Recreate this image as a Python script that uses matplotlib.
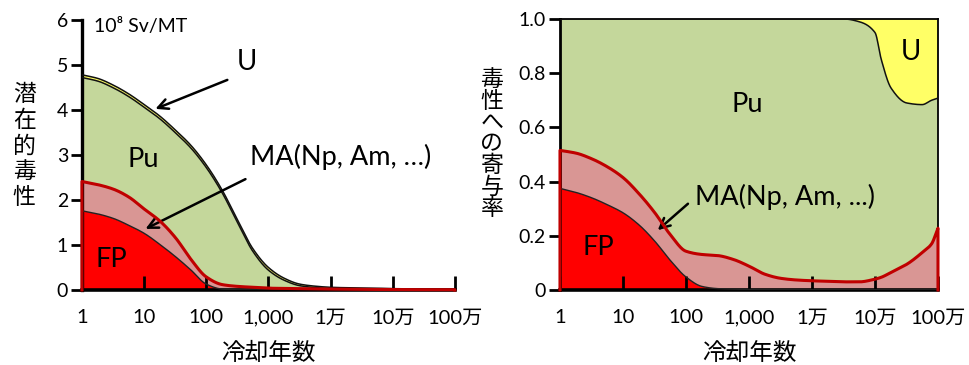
import matplotlib
matplotlib.use("Agg")
import matplotlib.pyplot as plt
import numpy as np
from matplotlib.ticker import FixedLocator, NullLocator

plt.rcParams["font.family"] = ["Lato", "Noto Sans CJK JP", "DejaVu Sans"]

# cooling time grid (years)
years = [1, 1.8, 3.2, 5.6, 10, 18, 32, 56, 100, 180, 320, 560, 1e3, 1.8e3, 3.2e3,
         5.6e3, 1e4, 1.8e4, 3.2e4, 5.6e4, 1e5, 1.26e5, 1.8e5, 3.2e5, 5.6e5, 7.9e5, 1e6]

# potential toxicity, 10^8 Sv/MT, per component (stacked FP, MA, Pu, U)
tox_fp = [1.76, 1.69, 1.59, 1.44, 1.26, 1.01, 0.74, 0.45, 0.13, 0.02, 0.005, 0.003, 0.002,
          0.001, 0.001, 0, 0, 0, 0, 0, 0, 0, 0, 0, 0, 0, 0]
tox_ma = [0.65, 0.65, 0.65, 0.63, 0.54, 0.52, 0.42, 0.24, 0.16, 0.10, 0.075, 0.057, 0.038,
          0.034, 0.029, 0.025, 0.02, 0.018, 0.015, 0.012, 0.01, 0.009, 0.008, 0.007, 0.006,
          0.006, 0.006]
tox_pu = [2.31, 2.30, 2.25, 2.23, 2.26, 2.27, 2.33, 2.47, 2.43, 2.04, 1.41, 0.80, 0.40,
          0.18, 0.065, 0.03, 0.015, 0.012, 0.012, 0.012, 0.008, 0.008, 0.007, 0.005, 0.005,
          0.004, 0.004]
tox_u = [0.06, 0.06, 0.06, 0.06, 0.06, 0.06, 0.06, 0.06, 0.06, 0.06, 0.06, 0.06, 0.06,
         0.045, 0.035, 0.03, 0.025, 0.02, 0.018, 0.016, 0.012, 0.011, 0.01, 0.008, 0.007,
         0.006, 0.005]

# share of the toxicity per component
frac_fp = [0.375, 0.36, 0.34, 0.315, 0.285, 0.24, 0.18, 0.11, 0.048, 0.013, 0.005, 0.003,
           0.002, 0.001, 0.001, 0.001, 0.001, 0.001, 0.001, 0.001, 0.001, 0.001, 0.001,
           0.001, 0.001, 0.001, 0.001]
frac_ma = [0.140, 0.145, 0.144, 0.140, 0.130, 0.115, 0.105, 0.095, 0.095, 0.118, 0.122,
           0.110, 0.086, 0.057, 0.042, 0.036, 0.033, 0.031, 0.029, 0.029, 0.039, 0.046,
           0.064, 0.094, 0.137, 0.169, 0.227]
frac_pu = [0.485, 0.495, 0.516, 0.545, 0.585, 0.645, 0.715, 0.795, 0.857, 0.869, 0.873,
           0.887, 0.912, 0.942, 0.957, 0.963, 0.966, 0.968, 0.970, 0.960, 0.910, 0.803,
           0.680, 0.595, 0.546, 0.530, 0.480]
frac_u = [0, 0, 0, 0, 0, 0, 0, 0, 0, 0, 0, 0, 0, 0, 0, 0, 0, 0, 0, 0.01, 0.05, 0.15,
          0.255, 0.31, 0.316, 0.30, 0.292]

xtick_vals = [1, 10, 100, 1e3, 1e4, 1e5, 1e6]
xtick_labels = ["1", "10", "100", "1,000", "1万", "10万", "100万"]

C_FP = "#FF0000"
C_MA = "#D99694"
C_PU = "#C4D79B"
C_U = "#FFFF66"
C_LINE = "#C00000"


def pchip(x, y, xn):
    # shape-preserving cubic so the curves stay smooth between read points
    x = np.asarray(x, float)
    y = np.asarray(y, float)
    h = np.diff(x)
    d = np.diff(y) / h
    m = np.zeros_like(y)
    m[0], m[-1] = d[0], d[-1]
    for k in range(1, len(x) - 1):
        if d[k - 1] * d[k] > 0:
            w1 = 2 * h[k] + h[k - 1]
            w2 = h[k] + 2 * h[k - 1]
            m[k] = (w1 + w2) / (w1 / d[k - 1] + w2 / d[k])
    idx = np.clip(np.searchsorted(x, xn) - 1, 0, len(x) - 2)
    t = (xn - x[idx]) / h[idx]
    h00 = 2 * t**3 - 3 * t**2 + 1
    h10 = t**3 - 2 * t**2 + t
    h01 = -2 * t**3 + 3 * t**2
    h11 = t**3 - t**2
    return h00 * y[idx] + h10 * h[idx] * m[idx] + h01 * y[idx + 1] + h11 * h[idx] * m[idx + 1]


fig = plt.figure(figsize=(9.7, 3.65), dpi=100)
ax1 = fig.add_axes([0.0845, 0.2055, 0.3845, 0.740])
ax2 = fig.add_axes([0.5773, 0.2055, 0.3897, 0.7425])


def draw_stack(ax, fp, ma, pu, u, top_line=True):
    lx = np.log10(years)
    lxn = np.linspace(lx[0], lx[-1], 600)
    xn = 10 ** lxn
    # smooth the stacked boundaries, then take the layers back out of them
    cum = np.cumsum(np.vstack([fp, ma, pu, u]), axis=0)
    tops = np.vstack([pchip(lx, c, lxn) for c in cum])
    tops = np.maximum.accumulate(np.clip(tops, 0, None), axis=0)
    layers = np.diff(np.vstack([np.zeros_like(xn), tops]), axis=0)
    ax.stackplot(xn, layers, colors=[C_FP, C_MA, C_PU, C_U], linewidth=0)
    ax.plot(xn, tops[0], color="#222222", lw=1.0, zorder=3)
    ax.plot(xn, tops[2], color="#111111", lw=1.1, zorder=3)
    if top_line:
        ax.plot(xn, tops[3], color="#111111", lw=1.1, zorder=3)
    # MA outline with its left and right edges
    ax.plot(np.r_[xn[0], xn, xn[-1]], np.r_[0, tops[1], 0], color=C_LINE, lw=2.2, zorder=4,
            solid_joinstyle="round", clip_on=False)


def style_xaxis(ax):
    ax.set_xscale("log")
    ax.set_xlim(1, 1e6)
    ax.xaxis.set_major_locator(FixedLocator(xtick_vals))
    ax.xaxis.set_minor_locator(NullLocator())
    ax.set_xticklabels(xtick_labels)
    ax.tick_params(axis="x", direction="in", length=10, width=2.0, labelsize=14.5, pad=14)
    ax.tick_params(axis="y", direction="out", length=8, width=2.0, labelsize=14, pad=2)
    ax.set_xlabel("冷却年数", fontsize=17, labelpad=11)


# left: potential toxicity
draw_stack(ax1, tox_fp, tox_ma, tox_pu, tox_u)
style_xaxis(ax1)
ax1.set_ylim(0, 6)
ax1.set_yticks([0, 1, 2, 3, 4, 5, 6])
for s in ["top", "right"]:
    ax1.spines[s].set_visible(False)
ax1.spines["left"].set_linewidth(2.4)
ax1.spines["bottom"].set_linewidth(2.6)
ax1.text(1.55, 5.85, "10⁸ Sv/MT", fontsize=14, ha="left", va="center")
fig.text(0.025, 0.60, "潜\n在\n的\n毒\n性", fontsize=16.5, ha="center", va="center",
         linespacing=1.25)

ax1.text(447, 5.07, "U", fontsize=20, ha="center", va="center")
ax1.annotate("", xy=(13.8, 4.0), xytext=(240, 4.69),
             arrowprops=dict(arrowstyle="->", lw=1.8, color="black", mutation_scale=18))
ax1.text(9.6, 2.89, "Pu", fontsize=19.5, ha="center", va="center")
ax1.text(500, 2.96, "MA(Np, Am, …)", fontsize=19.5, ha="left", va="center")
ax1.annotate("", xy=(9.6, 1.33), xytext=(468, 2.49),
             arrowprops=dict(arrowstyle="->", lw=1.8, color="black", mutation_scale=18))
ax1.text(3.0, 0.67, "FP", fontsize=19.5, ha="center", va="center")

# right: share of toxicity
draw_stack(ax2, frac_fp, frac_ma, frac_pu, frac_u, top_line=False)
style_xaxis(ax2)
ax2.set_ylim(0, 1)
ax2.set_yticks([0, 0.2, 0.4, 0.6, 0.8, 1.0])
ax2.set_yticklabels(["0", "0.2", "0.4", "0.6", "0.8", "1.0"])
ax2.spines["top"].set_linewidth(1.3)
ax2.spines["right"].set_linewidth(1.3)
ax2.spines["left"].set_linewidth(2.0)
ax2.spines["bottom"].set_linewidth(2.6)
fig.text(0.507, 0.605, "毒\n性\nへ\nの\n寄\n与\n率", fontsize=16.5, ha="center", va="center",
         linespacing=1.02)

ax2.text(3.7e5, 0.878, "U", fontsize=20, ha="center", va="center")
ax2.text(930, 0.683, "Pu", fontsize=19.5, ha="center", va="center")
ax2.text(138, 0.343, "MA(Np, Am, ...)", fontsize=19.5, ha="left", va="center")
ax2.annotate("", xy=(33, 0.214), xytext=(116, 0.325),
             arrowprops=dict(arrowstyle="->", lw=1.8, color="black", mutation_scale=18))
ax2.text(4.0, 0.155, "FP", fontsize=19.5, ha="center", va="center")

fig.savefig("out.png", dpi=100)
